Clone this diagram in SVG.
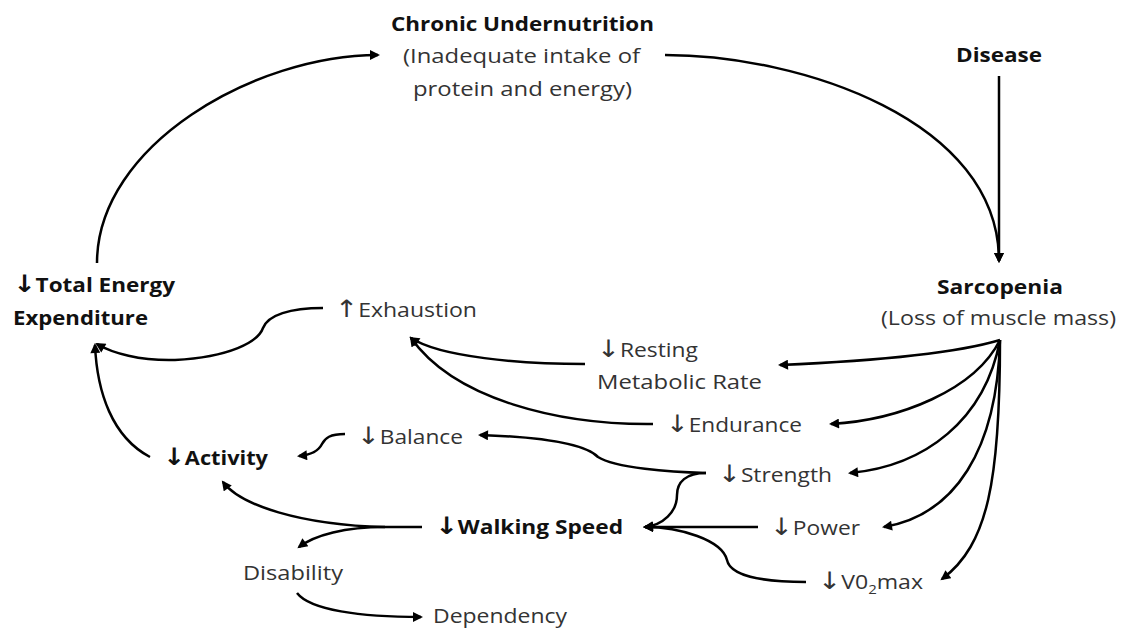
<svg xmlns="http://www.w3.org/2000/svg" width="1125" height="631" viewBox="0 0 1125 631">
<defs>
<marker id="ah" viewBox="0 0 10 10" refX="8" refY="5" markerWidth="11" markerHeight="10" markerUnits="userSpaceOnUse" orient="auto">
<path d="M0,0 L10,5 L0,10 z" fill="#000"/>
</marker>
<style>
.t{font-family:"Open Sans","Liberation Sans",sans-serif;font-size:20px;fill:#333;}
.b{font-family:"Open Sans","Liberation Sans",sans-serif;font-size:20px;font-weight:bold;fill:#111;}
.ar{font-family:"DejaVu Sans",sans-serif;font-size:24px;}
.c{fill:none;stroke:#000;stroke-width:2.5;}
.a{marker-end:url(#ah);}
</style>
</defs>
<rect width="1125" height="631" fill="#fff"/>
<g id="connectors">
<path class="c a" d="M97,263 C97,145 255,55 378,55"/>
<path class="c a" d="M665,55 C800,55 999,120 999,261"/>
<path class="c a" d="M999,76 L999,261"/>
<path class="c a" d="M1000,340 C950,355 850,362 780,365"/>
<path class="c a" d="M1000,340 C975,390 900,420 831,424"/>
<path class="c a" d="M1000,340 C985,420 925,466 850,473"/>
<path class="c a" d="M1000,340 C997,450 955,515 884,527"/>
<path class="c a" d="M1000,340 C1000,480 988,545 942,579"/>
<path class="c a" d="M585,364 C520,364 440,357 411,338"/>
<path class="c a" d="M653,424 C560,425 455,400 411,338"/>
<path class="c a" d="M323,308 C290,308 268,315 263,328 C258,342 230,357 175,360 C140,361 112,353 97,344"/>
<path class="c a" d="M150,457 C112,437 97,392 95,345"/>
<path class="c a" d="M706,473 C670,472 615,468 598,457 C585,444 540,437 480,435"/>
<path class="c a" d="M706,473 C686,473 677,482 677,495 C677,512 663,525 645,527"/>
<path class="c a" d="M758,527 L645,527"/>
<path class="c a" d="M806,582 C760,582 730,575 727,560 C722,540 680,527 645,527"/>
<path class="c a" d="M345,434 C330,434 325,438 322,444 C318,452 310,455 299,456"/>
<path class="c a" d="M422,527 L385,527 C300,525 240,505 223,482"/>
<path class="c a" d="M385,527 C345,527 315,535 299,547"/>
<path class="c a" d="M297,593 C310,610 360,617 421,617"/>
</g>
<g id="chronic-undernutrition">
<text class="b" x="391" y="31" textLength="263" lengthAdjust="spacingAndGlyphs">Chronic Undernutrition</text>
<text class="t" x="403" y="63" textLength="237" lengthAdjust="spacingAndGlyphs">(Inadequate intake of</text>
<text class="t" x="413" y="96" textLength="219" lengthAdjust="spacingAndGlyphs">protein and energy)</text>
</g>
<g id="disease"><text class="b" x="956" y="62" textLength="86" lengthAdjust="spacingAndGlyphs">Disease</text></g>
<g id="sarcopenia">
<text class="b" x="937" y="294" textLength="126" lengthAdjust="spacingAndGlyphs">Sarcopenia</text>
<text class="t" x="881" y="325" textLength="235" lengthAdjust="spacingAndGlyphs">(Loss of muscle mass)</text>
</g>
<g id="total-energy-expenditure">
<text class="b" x="13" y="292" textLength="162" lengthAdjust="spacingAndGlyphs"><tspan class="ar">↓</tspan>Total Energy</text>
<text class="b" x="13" y="325" textLength="135" lengthAdjust="spacingAndGlyphs">Expenditure</text>
</g>
<g id="exhaustion"><text class="t" x="335" y="317" textLength="142" lengthAdjust="spacingAndGlyphs"><tspan class="ar">↑</tspan>Exhaustion</text></g>
<g id="resting-metabolic-rate">
<text class="t" x="597" y="357" textLength="101" lengthAdjust="spacingAndGlyphs"><tspan class="ar">↓</tspan>Resting</text>
<text class="t" x="597" y="389" textLength="165" lengthAdjust="spacingAndGlyphs">Metabolic Rate</text>
</g>
<g id="endurance"><text class="t" x="666" y="432" textLength="136" lengthAdjust="spacingAndGlyphs"><tspan class="ar">↓</tspan>Endurance</text></g>
<g id="balance"><text class="t" x="357" y="444" textLength="106" lengthAdjust="spacingAndGlyphs"><tspan class="ar">↓</tspan>Balance</text></g>
<g id="activity"><text class="b" x="163" y="465" textLength="105" lengthAdjust="spacingAndGlyphs"><tspan class="ar">↓</tspan>Activity</text></g>
<g id="strength"><text class="t" x="718" y="482" textLength="114" lengthAdjust="spacingAndGlyphs"><tspan class="ar">↓</tspan>Strength</text></g>
<g id="walking-speed"><text class="b" x="435" y="534" textLength="188" lengthAdjust="spacingAndGlyphs"><tspan class="ar">↓</tspan>Walking Speed</text></g>
<g id="power"><text class="t" x="770" y="535" textLength="90" lengthAdjust="spacingAndGlyphs"><tspan class="ar">↓</tspan>Power</text></g>
<g id="vo2max"><text class="t" x="818" y="589" textLength="105" lengthAdjust="spacingAndGlyphs"><tspan class="ar">↓</tspan>V0<tspan font-size="13" dy="5">2</tspan><tspan dy="-5">max</tspan></text></g>
<g id="disability"><text class="t" x="243" y="580" textLength="100" lengthAdjust="spacingAndGlyphs">Disability</text></g>
<g id="dependency"><text class="t" x="433" y="623" textLength="134" lengthAdjust="spacingAndGlyphs">Dependency</text></g>
</svg>
